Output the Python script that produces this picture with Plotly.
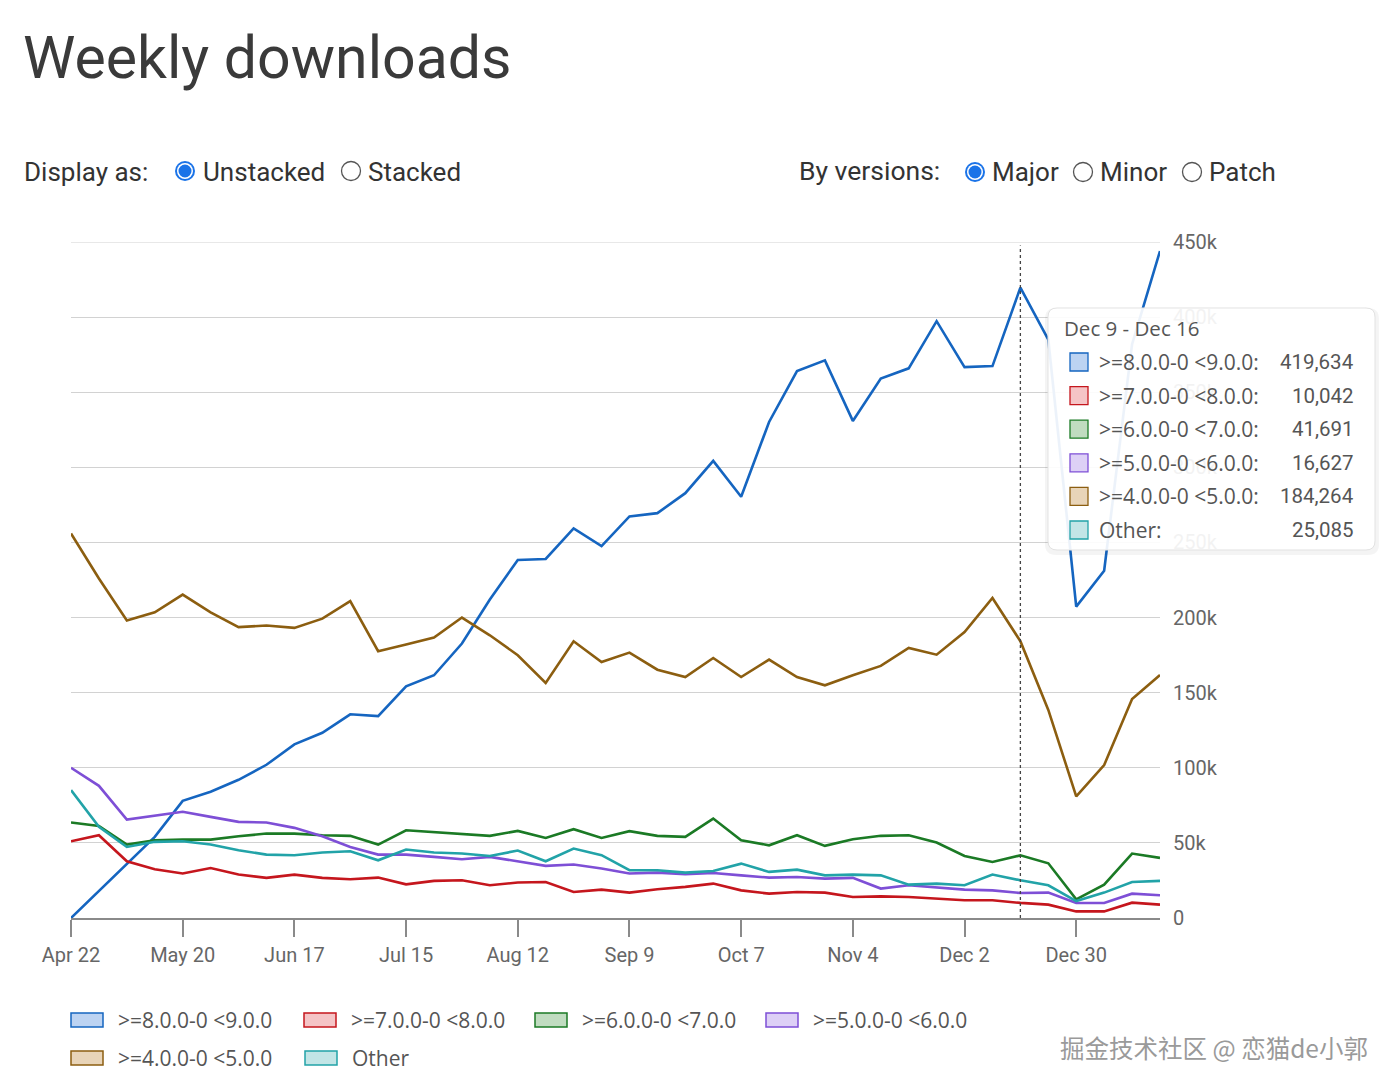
import pandas as pd
import plotly.graph_objects as go

# weekly downloads per major version range
weeks = pd.date_range("2024-04-22", periods=40, freq="7D")

v8 = [0, 18000, 36000, 54000, 78000, 84000, 92000, 102000, 115600, 123300,
      135600, 134400, 154200, 161600, 182700, 212000, 238300, 239000, 259400, 247600,
      267300, 269500, 282800, 304300, 280400, 330200, 364100, 371200, 330900, 359100,
      365900, 397300, 366700, 367400, 419634, 385000, 207300, 231200, 382000, 444000]

v7 = [51100, 55100, 37800, 32400, 29600, 33300, 28900, 26700, 28900, 26700,
      25800, 26900, 22400, 24700, 25100, 21800, 23600, 24000, 17300, 18900,
      16900, 19100, 20700, 22900, 18400, 16200, 17300, 16900, 14000, 14400,
      14000, 12900, 11800, 11800, 10042, 8900, 4400, 4400, 10200, 8900]

v6 = [63600, 61300, 48900, 51800, 52200, 52200, 54400, 56200, 56200, 55100,
      54700, 48900, 58400, 57300, 56200, 54700, 58000, 53300, 59100, 53300,
      57800, 54700, 54000, 66200, 51800, 48400, 55100, 48000, 52400, 54700,
      55100, 50200, 41300, 37300, 41691, 36400, 12400, 22200, 42900, 40000]

v5 = [100000, 88000, 65500, 68000, 70700, 67300, 64000, 63600, 60000, 54400,
      47300, 42200, 42200, 40700, 39100, 40700, 37800, 34700, 35600, 32900,
      29600, 30200, 29100, 30000, 28400, 26900, 27300, 26200, 26700, 19600,
      21800, 20200, 18900, 18400, 16627, 16900, 10000, 10000, 16200, 15100]

v4 = [256000, 226000, 198000, 203500, 215300, 203500, 193600, 194700, 193100, 199300,
      210900, 177600, 182000, 186700, 200000, 188200, 174900, 156500, 184200, 170400,
      176700, 165300, 160400, 173100, 160400, 172000, 160400, 154900, 161600, 167800,
      179800, 175300, 190400, 213000, 184264, 138500, 81000, 101800, 145800, 161800]

other = [85100, 60700, 47300, 50700, 51100, 48900, 45100, 42200, 41800, 43600,
         44400, 38400, 45600, 43600, 42900, 41300, 44900, 37800, 46200, 41800,
         31800, 31800, 30200, 31300, 36200, 30700, 32200, 28400, 28900, 28400,
         22200, 22900, 21800, 28900, 25085, 21800, 11300, 16900, 24000, 24700]

names = [">=8.0.0-0 <9.0.0", ">=7.0.0-0 <8.0.0", ">=6.0.0-0 <7.0.0",
         ">=5.0.0-0 <6.0.0", ">=4.0.0-0 <5.0.0", "Other"]
series = [v8, v7, v6, v5, v4, other]
line_colors = ["#1565c0", "#c5161d", "#1b7a25", "#7e4fd6", "#8c5e10", "#22a3a8"]
fill_colors = ["#bcd3f2", "#f5c4c6", "#c0dcc0", "#ddd0f6", "#e8d4b8", "#c2e5e6"]

y_ticks = [0, 50000, 100000, 150000, 200000, 250000, 300000, 350000, 400000, 450000]
y_labels = ["0", "50k", "100k", "150k", "200k", "250k", "300k", "350k", "400k", "450k"]

hover_idx = 34

FONT = "Roboto, Arial, sans-serif"
FONT2 = "Open Sans, Roboto, sans-serif"

# plot area in page pixels: x 71..1160, y 242..918
PL, PR, PT, PB = 71, 1160, 242, 918


def px_x(x):
    return (x - PL) / (PR - PL)


def px_y(y):
    return (PB - y) / (PB - PT)


def esc(s):
    return s.replace("<", "&lt;").replace(">", "&gt;")


def rrect(x0, y0, x1, y1, r):
    segs = [("M", [(x0 + r, y0)]), ("L", [(x1 - r, y0)]), ("Q", [(x1, y0), (x1, y0 + r)]),
            ("L", [(x1, y1 - r)]), ("Q", [(x1, y1), (x1 - r, y1)]), ("L", [(x0 + r, y1)]),
            ("Q", [(x0, y1), (x0, y1 - r)]), ("L", [(x0, y0 + r)]), ("Q", [(x0, y0), (x0 + r, y0)])]
    out = ""
    for cmd, pts in segs:
        out += cmd + " ".join(f"{px_x(a):.5f},{px_y(b):.5f}" for a, b in pts) + " "
    return out + "Z"


fig = go.Figure()
for name, vals, col in zip(names, series, line_colors):
    fig.add_trace(go.Scatter(x=weeks, y=vals, mode="lines", name=name,
                             line=dict(color=col, width=2.6), showlegend=False))

shapes = []
ann = []


def text(x, y, s, size, color, anchor="left", family=FONT):
    ann.append(dict(x=px_x(x), y=px_y(y), xref="paper", yref="paper", text=s,
                    showarrow=False, xanchor=anchor, yanchor="middle",
                    font=dict(size=size, color=color, family=family)))


def radio(cx, cy, on):
    base = dict(type="circle", xref="paper", yref="paper", xsizemode="pixel",
                ysizemode="pixel", xanchor=px_x(cx), yanchor=px_y(cy), layer="above")
    if on:
        shapes.append(dict(base, x0=-10, x1=10, y0=-10, y1=10, fillcolor="#1a73e8", line=dict(width=0)))
        shapes.append(dict(base, x0=-8, x1=8, y0=-8, y1=8, fillcolor="white", line=dict(width=0)))
        shapes.append(dict(base, x0=-6.5, x1=6.5, y0=-6.5, y1=6.5, fillcolor="#1a73e8", line=dict(width=0)))
    else:
        shapes.append(dict(base, x0=-9.5, x1=9.5, y0=-9.5, y1=9.5, fillcolor="white",
                           line=dict(color="#555", width=1.3)))


# header
text(21, 58, "Weekly downloads", 59, "#3a3a3a")
text(22, 172, "Display as:", 26, "#333")
radio(185, 171, True)
text(201, 172, "Unstacked", 26, "#333")
radio(351, 171, False)
text(366, 172, "Stacked", 26, "#333")
text(797, 171, "By versions:", 26.5, "#333")
radio(975, 172, True)
text(990, 172, "Major", 26, "#333")
radio(1083, 172, False)
text(1098, 172, "Minor", 26, "#333")
radio(1192, 172, False)
text(1207, 172, "Patch", 26, "#333")

# top gridline at 450k
shapes.append(dict(type="line", xref="paper", yref="y", x0=0, x1=1, y0=y_ticks[-1], y1=y_ticks[-1],
                   line=dict(color="#d2d2d2", width=1), layer="below"))

# hover marker line
shapes.append(dict(type="line", xref="x", yref="paper", x0=weeks[hover_idx], x1=weeks[hover_idx],
                   y0=0, y1=0.995, line=dict(color="#444", width=1.3, dash="3px,3px"), layer="above"))

# tooltip box
shapes.append(dict(type="path", xref="paper", yref="paper", path=rrect(1045, 308, 1379, 555, 11),
                   fillcolor="rgba(0,0,0,0.045)", line=dict(width=0), layer="above"))
shapes.append(dict(type="path", xref="paper", yref="paper", path=rrect(1048, 308, 1375, 550, 9),
                   fillcolor="rgba(255,255,255,0.92)", line=dict(color="#e2e2e2", width=1), layer="above"))
d0, d1 = weeks[hover_idx - 1], weeks[hover_idx]
text(1062, 328, f"{d0:%b} {d0.day} - {d1:%b} {d1.day}", 20.5, "#555", family=FONT2)
for k, (name, vals) in enumerate(zip(names, series)):
    yy = 362 + k * 33.6
    shapes.append(dict(type="rect", xref="paper", yref="paper", x0=px_x(1070), x1=px_x(1088),
                       y0=px_y(yy + 9), y1=px_y(yy - 9), fillcolor=fill_colors[k],
                       line=dict(color=line_colors[k], width=1.3), layer="above"))
    text(1097, yy, esc(name) + ":", 21, "#555", family=FONT2)
    text(1356, yy, f"{vals[hover_idx]:,}", 20.5, "#555", anchor="right")

# legend at bottom
legend_pos = [(71, 1020), (304, 1020), (535, 1020), (766, 1020), (71, 1058), (305, 1058)]
for k, (name, (lx, ly)) in enumerate(zip(names, legend_pos)):
    shapes.append(dict(type="rect", xref="paper", yref="paper", x0=px_x(lx), x1=px_x(lx + 32),
                       y0=px_y(ly + 7), y1=px_y(ly - 7), fillcolor=fill_colors[k],
                       line=dict(color=line_colors[k], width=1.5)))
    text(lx + 45, ly, esc(name), 21, "#555", family=FONT2)

text(1370, 1047, "掘金技术社区 @ 恋猫de小郭", 24.5, "#9a9a9a", anchor="right",
     family="Noto Sans CJK SC, sans-serif")

fig.update_layout(
    width=1400, height=1090,
    margin=dict(l=PL, r=1400 - PR, t=PT, b=1090 - PB, pad=0),
    paper_bgcolor="white", plot_bgcolor="white",
    font=dict(family=FONT, color="#555"),
    shapes=shapes, annotations=ann,
    hovermode=False,
    xaxis=dict(range=[weeks[0], weeks[-1]], tick0=weeks[0], dtick=28 * 86400000,
               tickformat="%b %-d", showgrid=False, zeroline=False,
               showline=True, linecolor="#8a8a8a", linewidth=1.5,
               ticks="outside", ticklen=17, tickwidth=1.5, tickcolor="#8a8a8a",
               ticklabelstandoff=1, tickfont=dict(size=20, color="#666")),
    yaxis=dict(range=[0, 450000], side="right", tickvals=y_ticks, ticktext=y_labels,
               showgrid=True, gridcolor="#d2d2d2", gridwidth=1, zeroline=False,
               showline=False, ticks="", ticklabelstandoff=12,
               tickfont=dict(size=20, color="#666")),
)

fig.write_html("out.html", config={"displayModeBar": False},
               post_script="document.body.style.margin='0';")
